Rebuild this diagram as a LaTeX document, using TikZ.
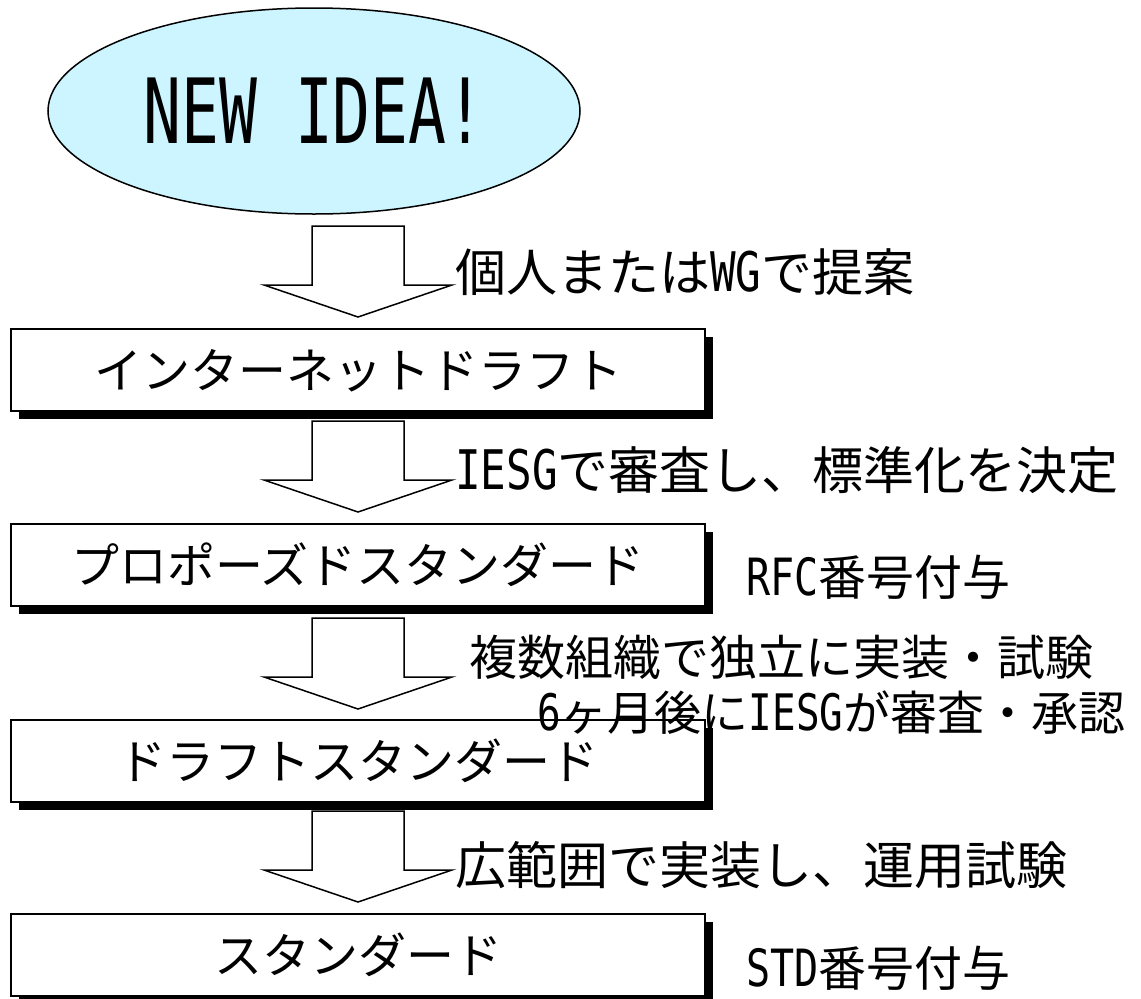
\documentclass[tikz,border=0pt]{standalone}
\usepackage{fontspec}
\setmainfont{Noto Sans CJK JP}
\newfontfamily\latf[FakeStretch=0.78,Scale=1.07]{DejaVu Sans Mono}
\newfontfamily\titlef[FakeStretch=0.70]{DejaVu Sans Mono}
\newcommand\lt[1]{{\latf #1}}
\usetikzlibrary{shapes.geometric}
\definecolor{idea}{RGB}{204,245,255}
\tikzset{
  boxsize/.style={minimum width=694pt, minimum height=82pt, inner sep=0pt},
  shadowbox/.style={boxsize, fill=black, draw=none},
  stepbox/.style={boxsize, draw, fill=white, line width=1.5pt,
    font=\fontsize{48}{48}\selectfont, text height=42pt, text depth=6pt},
  lbl/.style={anchor=west, inner sep=0pt, font=\fontsize{51}{51}\selectfont,
    text height=45pt, text depth=6pt},
  lbls/.style={anchor=west, inner sep=0pt, font=\fontsize{48}{48}\selectfont,
    text height=42pt, text depth=6pt},
  blockarr/.style={draw, fill=white, line width=1.5pt, line join=miter}
}
\newcommand\stepnode[4]{%
  \node[shadowbox] (#1s) at (#2+8,#3+8) {};
  \node[stepbox] (#1) at (#2,#3) {#4};}
\newcommand\blockarrow[2]{%
  \draw[blockarr] (#1-46,#2) -- (#1+46,#2) -- (#1+46,#2+59) -- (#1+94,#2+59)
    -- (#1,#2+91) -- (#1-94,#2+59) -- (#1-46,#2+59) -- cycle;}
\begin{document}
\begin{tikzpicture}[x=1pt,y=-1pt]
\useasboundingbox (0,0) rectangle (1141,999);
\node[ellipse, draw, fill=idea, line width=1.5pt, minimum width=532pt,
  minimum height=206pt, inner sep=0pt] (idea) at (314,111)
  {\fontsize{90}{90}\selectfont\titlef NEW IDEA!};

\stepnode{b1}{358}{370}{インターネットドラフト}
\stepnode{b2}{358}{565}{プロポーズドスタンダード}
\stepnode{b3}{358}{761}{ドラフトスタンダード}
\stepnode{b4}{358}{955}{スタンダード}

\blockarrow{358}{226}
\blockarrow{358}{421}
\blockarrow{358}{618}
\blockarrow{358}{811}

\node[lbl] (l1) at (455,272) {個人または\lt{WG}で提案};
\node[lbl] (l2) at (455,470) {\lt{IESG}で審査し、標準化を決定};
\node[lbls] (r1) at (746,577) {\lt{RFC}番号付与};
\node[lbls] (l3) at (469,657) {複数組織で独立に実装・試験};
\node[lbls, font=\fontsize{47}{47}\selectfont] (l4) at (537,712) {\lt{6}ヶ月後に\lt{IESG}が審査・承認};
\node[lbl] (l5) at (455,865) {広範囲で実装し、運用試験};
\node[lbls] (r2) at (746,968) {\lt{STD}番号付与};
\end{tikzpicture}
\end{document}
